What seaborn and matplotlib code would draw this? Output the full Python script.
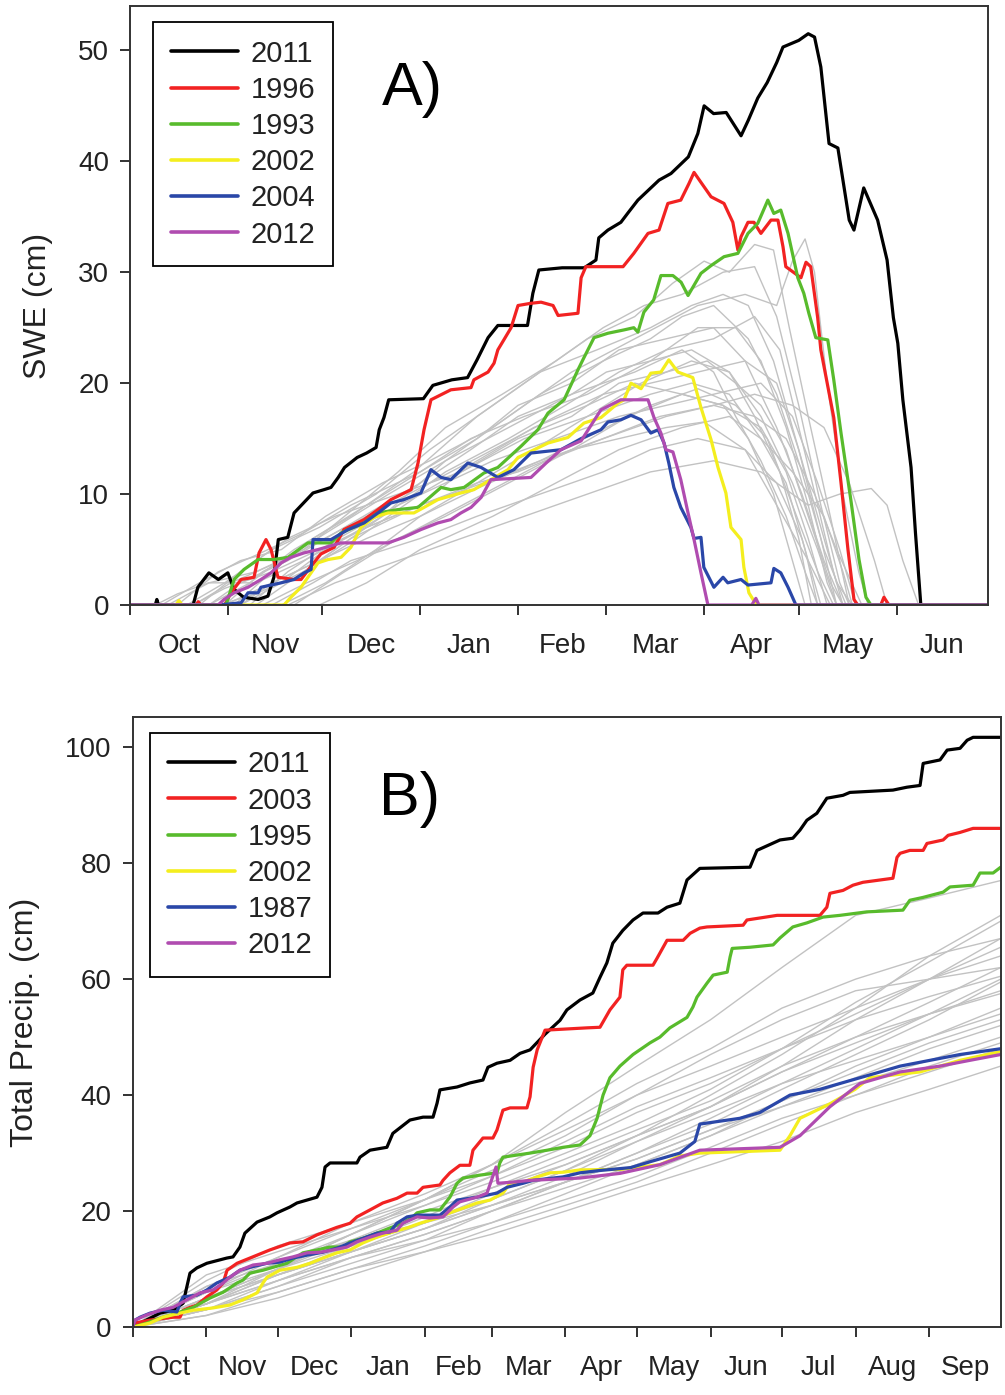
import seaborn as sns
import matplotlib.pyplot as plt
from matplotlib.lines import Line2D

# x values are days after 1 October, y values in cm

# ---- panel A: SWE ----
swe_2011 = [(0, 0), (8, 0), (8.5, 0.5), (9, 0), (20, 0), (21.5, 1.6), (25, 2.9), (28, 2.3), (31, 2.9),
            (33, 1.4), (36, 0.7), (40.6, 0.5), (43.7, 0.8), (45.6, 2.5), (47, 5.9), (50, 6.1), (52, 8.3),
            (55, 9.2), (58, 10.1), (61.5, 10.4), (63.7, 10.6), (66, 11.5), (68, 12.4), (72, 13.3),
            (75, 13.7), (78, 14.2), (79, 15.8), (80.5, 16.9), (82, 18.5), (93, 18.6), (96, 19.8),
            (102, 20.3), (107, 20.5), (110, 22.1), (113.5, 24.1), (116.6, 25.2), (126, 25.2),
            (127.7, 28.1), (129.6, 30.2), (137, 30.4), (144, 30.4), (147.7, 31.1), (148.6, 33.1),
            (151.5, 33.8), (155.6, 34.5), (158, 35.4), (161, 36.5), (167.7, 38.3), (171.5, 38.9),
            (177, 40.4), (180, 42.5), (182, 45.0), (185, 44.3), (189, 44.4), (193.7, 42.3), (196, 43.7),
            (199, 45.7), (202, 47.1), (205, 48.9), (207, 50.3), (212, 50.9), (215, 51.5), (217, 51.2),
            (219, 48.5), (221.6, 41.6), (224.4, 41.2), (228, 34.7), (229.5, 33.8), (232.6, 37.6),
            (237, 34.7), (240, 31.1), (242, 25.9), (243.4, 23.6), (245, 18.5), (247.6, 12.4),
            (249, 6.5), (250.7, 0), (272, 0)]
swe_1996 = [(0, 0), (21, 0), (21.6, 0.3), (22.5, 0), (30, 0), (32, 1.1), (35.2, 2.3), (39.3, 2.5),
            (40.9, 4.7), (43.1, 5.9), (44.7, 5.0), (46.9, 2.5), (52, 2.3), (54.2, 2.3), (57.4, 3.5),
            (60.5, 4.6), (64.7, 5.2), (67.8, 6.8), (74.2, 7.7), (78.6, 8.6), (82.7, 9.5), (89.1, 10.4),
            (91.3, 12.8), (93.2, 15.8), (95.4, 18.5), (101.7, 19.4), (108.1, 19.6), (109, 20.3),
            (113.5, 21.0), (115.4, 21.8), (116.6, 23.0), (118.5, 23.9), (120.8, 25.0), (123, 27.0),
            (127.1, 27.2), (130.3, 27.3), (134.1, 27.0), (135.7, 26.1), (142, 26.3), (143, 29.5),
            (144.5, 30.5), (156.3, 30.5), (159.7, 31.7), (164.2, 33.5), (167.7, 33.8), (170.5, 36.2),
            (174.6, 36.5), (177.2, 38.0), (178.8, 39.0), (181, 38.1), (184.2, 36.8), (188.3, 36.2),
            (191.1, 34.5), (192.7, 32.0), (193.7, 33.2), (195.9, 34.5), (197.8, 34.5), (200, 33.5),
            (203.2, 34.7), (205.4, 34.7), (207, 32.3), (207.9, 30.5), (212.7, 29.5), (214.3, 30.9),
            (215.8, 30.5), (218, 25.9), (219, 23.0), (223.1, 16.9), (225.4, 11.0), (227.6, 5.0),
            (229.5, 0.5), (230.7, 0), (238, 0), (239, 0.7), (240.6, 0), (272, 0)]
swe_1993 = [(0, 0), (30.4, 0), (33, 2.3), (36.1, 3.2), (40.6, 4.1), (45.6, 4.1), (50.1, 4.3),
            (56.4, 5.6), (63.7, 5.6), (66.9, 6.5), (74.2, 7.4), (78.6, 8.3), (84.9, 8.6), (91.3, 8.8),
            (98.6, 10.6), (101.7, 10.4), (105.9, 10.6), (112.2, 11.9), (116.6, 12.4), (123.9, 14.3),
            (129.3, 15.8), (132.5, 17.3), (137.6, 18.5), (142, 21.2), (143.9, 22.3), (147.1, 24.1),
            (151.5, 24.5), (156.6, 24.8), (159.7, 25.0), (161, 24.6), (162.9, 26.4), (166, 27.5),
            (168.3, 29.7), (172.1, 29.7), (174.7, 29.1), (176.9, 27.9), (181, 29.9), (184.2, 30.6),
            (188.3, 31.4), (192.7, 31.7), (195.9, 33.5), (199, 34.4), (202.2, 36.5), (204.1, 35.3),
            (206.3, 35.6), (208.6, 33.5), (211.7, 29.5), (213.6, 28.1), (215.2, 26.3), (217.4, 24.1),
            (221.2, 23.9), (223.1, 20.3), (225.4, 15.5), (228.5, 9.5), (231.1, 4.1), (233.3, 0.7),
            (234.9, 0), (272, 0)]
swe_2002 = [(0, 0), (14.5, 0), (15.5, 0.4), (16.5, 0), (48.8, 0), (51, 0.7), (54.2, 1.6), (56.4, 2.5),
            (59.6, 3.8), (62.8, 4.1), (66.9, 4.3), (70, 5.2), (73.2, 7.0), (77.3, 7.9), (81.8, 8.3),
            (90, 8.3), (93.2, 8.8), (97.6, 9.5), (104.9, 10.1), (109, 10.4), (114.4, 11.3),
            (119.8, 12.2), (123, 13.3), (132.5, 14.6), (138.8, 15.1), (143.9, 16.4), (149.3, 16.9),
            (154.7, 18.2), (156.6, 18.5), (158.8, 20.0), (162, 19.5), (165.1, 20.9), (168.3, 21.0),
            (170.8, 22.1), (173.7, 21.0), (178.4, 20.5), (181, 17.8), (184.2, 14.9), (186.4, 12.4),
            (188.9, 10.1), (190.5, 7.0), (193.7, 5.9), (194.6, 3.4), (196.2, 1.1), (197.5, 0.5),
            (199, 0), (272, 0)]
swe_2004 = [(0, 0), (27.9, 0), (35.2, 0.2), (37.4, 1.1), (40.6, 1.1), (41.5, 1.6), (44.7, 1.8),
            (47.9, 2.0), (52, 2.3), (55.2, 2.9), (57.4, 3.2), (58, 5.9), (63.7, 5.9), (69.1, 6.8),
            (74.2, 7.4), (78.6, 8.3), (82.7, 9.2), (86.8, 9.5), (92.2, 10.1), (95.4, 12.2),
            (98.6, 11.5), (101.7, 11.3), (107.1, 12.8), (111.3, 12.4), (116.6, 11.5), (121.7, 12.2),
            (127.1, 13.7), (136.6, 14.0), (143, 15.0), (149.3, 15.8), (151.5, 16.5), (155.6, 16.7),
            (158.8, 17.1), (162, 16.7), (165.1, 15.5), (167.4, 15.8), (169.3, 14.6), (170.8, 12.8),
            (172.4, 10.6), (174.6, 8.8), (177.8, 7.0), (178.8, 6.0), (181, 6.1), (181.9, 3.4),
            (185.1, 1.6), (188, 2.5), (189.5, 2.0), (193.7, 2.3), (195.9, 1.8), (203.2, 2.0),
            (204.1, 3.3), (206.3, 2.9), (208.6, 1.6), (211.1, 0), (272, 0)]
swe_2012 = [(0, 0), (27.9, 0), (29.8, 0.5), (33, 1.1), (37.4, 1.6), (41.5, 2.3), (44.7, 2.9),
            (47.9, 3.8), (51, 4.3), (55.2, 4.7), (59.6, 5.0), (66.9, 5.6), (81.8, 5.6), (86.8, 6.1),
            (92.2, 6.8), (97.6, 7.4), (101.7, 7.7), (104.9, 8.3), (108.1, 8.8), (111.3, 9.7),
            (114.4, 11.3), (127.1, 11.5), (131.9, 12.8), (136.6, 14.0), (143, 14.8), (149.3, 17.6),
            (155.6, 18.5), (164.2, 18.5), (166.1, 16.9), (168.3, 15.5), (169.9, 14.0), (172.1, 13.8),
            (174.6, 11.3), (176.9, 8.3), (178.8, 5.9), (181, 2.9), (183.2, 0), (197.1, 0),
            (198.4, 0.6), (199.4, 0), (272, 0)]

swe_gray = [
    [(0, 0), (20, 0), (30, 1.5), (45, 3), (60, 5), (75, 7), (92, 9), (110, 11), (123, 12), (140, 14),
     (155, 15), (170, 16), (182, 16.5), (195, 14), (205, 9), (215, 4), (222, 0), (272, 0)],
    [(0, 0), (25, 0), (35, 2), (50, 4), (62, 6), (80, 9), (92, 11), (108, 14), (123, 17), (140, 19),
     (151, 21), (165, 22), (178, 23), (190, 21), (200, 17), (210, 11), (218, 5), (224, 0), (272, 0)],
    [(0, 0), (15, 0), (28, 3), (40, 4.5), (55, 6.5), (70, 9), (92, 12), (110, 15), (123, 18), (140, 20),
     (155, 23), (170, 24), (185, 25), (195, 22), (205, 16), (213, 10), (220, 4), (226, 0), (272, 0)],
    [(0, 0), (35, 0), (45, 2), (60, 4), (75, 6), (92, 8), (110, 10.5), (130, 13), (151, 16), (165, 18),
     (180, 19.5), (192, 18), (202, 15), (210, 9), (218, 3), (223, 0), (272, 0)],
    [(0, 0), (10, 0), (22, 2), (35, 4), (48, 5), (62, 8), (80, 11), (95, 13), (115, 16), (130, 19),
     (150, 22), (165, 24), (175, 26), (185, 27), (196, 24), (205, 19), (213, 12), (220, 5), (227, 0),
     (272, 0)],
    [(0, 0), (40, 0), (55, 3), (70, 6), (92, 9), (105, 12), (123, 15), (140, 17), (155, 20), (170, 21),
     (183, 22), (192, 20), (200, 18), (208, 14), (215, 8), (222, 2), (226, 0), (272, 0)],
    [(0, 0), (30, 0), (42, 3), (55, 5), (68, 8), (85, 12), (100, 16), (118, 19), (135, 22), (150, 25),
     (163, 27), (175, 28), (188, 30), (198, 30.5), (205, 26), (212, 18), (219, 9), (225, 2), (228, 0),
     (272, 0)],
    [(0, 0), (45, 0), (58, 2), (70, 4), (92, 6), (110, 8), (130, 10), (150, 12), (165, 14), (180, 15),
     (195, 14), (205, 11), (213, 6), (219, 0), (272, 0)],
    [(0, 0), (20, 0), (32, 2), (48, 4), (65, 7), (82, 10), (100, 13), (120, 16), (140, 19), (160, 21),
     (175, 23), (185, 21), (192, 17), (200, 13), (208, 8), (214, 3), (218, 0), (272, 0)],
    [(0, 0), (38, 0), (50, 3), (66, 6), (85, 9), (100, 11), (115, 13), (135, 15), (155, 17), (170, 18),
     (185, 19), (200, 20), (210, 17), (218, 11), (225, 5), (230, 0), (272, 0)],
    [(0, 0), (25, 0), (38, 2), (52, 5), (70, 8), (90, 12), (110, 17), (125, 20), (145, 24), (160, 26),
     (172, 29), (182, 31), (190, 30), (198, 32.5), (204, 32), (209, 25), (215, 17), (222, 8), (228, 0),
     (272, 0)],
    [(0, 0), (48, 0), (62, 2), (78, 5), (92, 8), (110, 11), (128, 14), (145, 17), (162, 20), (178, 22),
     (190, 21), (198, 17), (206, 12), (212, 6), (216, 0), (272, 0)],
    [(0, 0), (12, 0), (25, 2), (40, 3), (55, 5), (75, 8), (95, 11), (115, 14), (135, 17), (150, 19),
     (165, 20), (180, 21), (195, 22), (205, 20), (212, 14), (218, 8), (224, 2), (229, 0), (272, 0)],
    [(0, 0), (50, 0), (65, 2), (85, 4), (105, 6), (125, 8), (145, 10), (165, 12), (185, 13), (200, 12),
     (215, 9), (225, 10), (235, 10.5), (240, 9), (245, 4), (250, 0), (272, 0)],
    [(0, 0), (35, 0), (48, 2), (62, 5), (80, 8), (100, 12), (120, 15), (138, 18), (155, 21), (170, 23),
     (185, 24), (198, 26), (206, 23), (212, 16), (218, 9), (223, 3), (226, 0), (272, 0)],
    [(0, 0), (28, 0), (40, 1), (55, 3), (72, 6), (92, 10), (110, 13), (128, 16), (145, 18), (160, 20),
     (175, 19), (188, 18), (200, 16), (208, 12), (215, 6), (221, 0), (272, 0)],
    [(0, 0), (42, 0), (56, 2), (72, 4), (92, 7), (112, 10), (132, 13), (150, 15), (168, 17), (185, 18),
     (198, 17), (208, 15), (217, 10), (224, 5), (232, 0), (272, 0)],
    [(0, 0), (18, 0), (30, 2), (45, 5), (60, 7), (78, 10), (95, 14), (115, 18), (130, 21), (148, 23),
     (165, 25), (178, 27), (188, 28), (196, 27), (204, 22), (212, 14), (219, 6), (224, 0), (272, 0)],
    [(0, 0), (52, 0), (68, 3), (85, 6), (100, 8), (120, 11), (140, 14), (158, 17), (175, 19), (188, 18),
     (196, 15), (204, 10), (210, 4), (214, 0), (272, 0)],
    [(0, 0), (8, 0), (15, 1), (25, 2), (40, 2), (55, 4), (75, 7), (92, 9), (112, 11), (130, 13),
     (150, 15), (170, 17), (185, 18), (198, 19), (210, 18), (220, 16), (228, 11), (236, 4), (240, 0),
     (272, 0)],
    [(0, 0), (33, 0), (45, 3), (58, 6), (75, 9), (92, 12), (108, 15), (125, 17), (145, 19), (165, 22),
     (180, 25), (192, 25), (200, 22), (208, 16), (215, 9), (221, 2), (224, 0), (272, 0)],
    [(0, 0), (60, 0), (75, 2), (92, 5), (115, 8), (135, 11), (155, 14), (175, 16), (190, 17), (200, 15),
     (208, 11), (214, 5), (218, 0), (272, 0)],
    [(0, 0), (30, 0), (45, 2), (60, 4), (80, 8), (100, 13), (120, 17), (140, 21), (160, 24), (180, 27),
     (195, 28), (205, 27), (210, 31), (214, 33), (217, 30), (221, 20), (226, 10), (231, 3), (234, 0),
     (272, 0)],
    [(0, 0), (22, 0), (35, 3), (50, 6), (65, 8), (85, 10), (105, 12), (125, 15), (145, 17), (165, 19),
     (178, 20), (190, 19), (200, 15), (210, 12), (220, 8), (226, 3), (229, 0), (272, 0)],
]

# ---- panel B: cumulative precipitation ----
pcp_2011 = [(0, 0), (4.3, 0.9), (11.5, 2.4), (17, 2.9), (21.2, 4.1), (24.1, 9.3), (27, 10.2),
            (31.2, 11.0), (39.6, 11.9), (42.2, 12.1), (45.1, 13.8), (47.2, 16.2), (52.3, 18.1),
            (57.7, 19.0), (60.7, 19.7), (66.1, 20.7), (69.1, 21.4), (77.5, 22.4), (79.6, 24.1),
            (80.9, 27.6), (83, 28.3), (94.3, 28.3), (95.6, 29.3), (99.8, 30.5), (106.9, 31.0),
            (109.4, 33.4), (116.6, 35.7), (122.1, 36.2), (126.3, 36.2), (128, 38.6), (129.2, 40.9),
            (136.4, 41.4), (141.8, 42.1), (147.3, 42.6), (149.4, 44.8), (153.2, 45.5), (158.7, 46.0),
            (162.9, 47.2), (167.1, 47.8), (173.4, 50.5), (179.7, 52.9), (182.6, 54.7), (188.1, 56.4),
            (193.5, 57.6), (196.5, 60.3), (199.4, 62.8), (201.9, 66.2), (206.1, 68.4), (210.4, 70.2),
            (214.6, 71.4), (220.9, 71.4), (224.7, 72.4), (230.1, 73.1), (233.1, 77.1), (238.5, 79.1),
            (259.6, 79.3), (262.5, 82.2), (272.2, 84.0), (277.6, 84.3), (280.6, 85.7), (283.5, 87.4),
            (287.7, 88.6), (291.9, 91.2), (298.7, 91.7), (301.6, 92.2), (319.7, 92.6), (325.6, 93.1),
            (331.1, 93.4), (332.4, 97.2), (339.5, 97.8), (342.5, 99.5), (347.9, 99.8), (350.9, 101.2),
            (353.4, 101.7), (365, 101.7)]
pcp_2003 = [(0, 0), (1, 0.7), (7.3, 1.2), (17, 1.7), (19.9, 1.7), (21.2, 2.9), (24.1, 3.4), (27, 3.8),
            (31.2, 5.2), (35.4, 6.4), (38, 7.6), (39.7, 9.8), (43.9, 11.0), (49.3, 11.9), (57.7, 13.3),
            (66.1, 14.5), (71.6, 14.7), (77.5, 15.9), (85.9, 17.2), (91.4, 17.9), (94.3, 19.0),
            (99.8, 20.2), (105.2, 21.4), (111.1, 22.2), (115.4, 23.1), (119.6, 23.1), (122.1, 24.1),
            (129.2, 24.5), (130.5, 25.3), (133.4, 26.6), (137.6, 27.9), (141.8, 27.9), (143.1, 30.5),
            (147.3, 32.6), (151.5, 32.6), (153.2, 34.0), (155.7, 37.4), (158.7, 37.8), (165.8, 37.8),
            (167.1, 39.7), (168.4, 44.8), (170.1, 47.8), (173.4, 51.2), (191.1, 51.6), (196.5, 51.7),
            (200.7, 54.7), (204.9, 56.9), (206.1, 61.6), (207.8, 62.4), (218.8, 62.4), (220.5, 63.6),
            (224.7, 66.7), (231.5, 66.7), (234.4, 67.9), (238.5, 68.8), (241.5, 69.0), (256.7, 69.3),
            (258.3, 70.2), (271, 71.0), (289, 71.0), (291.9, 72.4), (293.2, 74.8), (298.7, 75.3),
            (302.9, 76.2), (307.1, 76.7), (319.7, 77.4), (321.4, 81.0), (322.7, 81.7), (326.8, 82.2),
            (332.4, 82.2), (334, 83.4), (340.8, 84.0), (342.9, 84.8), (347.9, 85.3), (353.4, 86.0),
            (365, 86.0)]
pcp_1995 = [(0, 0), (6, 0.7), (12.7, 1.7), (18.6, 2.4), (25.4, 3.4), (32.5, 5.0), (38, 6.0),
            (43.9, 7.6), (46.4, 8.1), (49.3, 9.3), (54.8, 9.8), (59, 10.3), (64.9, 11.0), (71.6, 12.8),
            (77.5, 13.3), (83, 13.8), (88.5, 13.8), (91.4, 14.7), (96.8, 15.3), (102.7, 16.2),
            (108.2, 17.1), (113.6, 17.9), (117.8, 19.0), (119.6, 19.7), (125, 20.2), (129.2, 20.2),
            (133.4, 22.4), (136.4, 24.8), (138.9, 25.7), (146, 26.2), (153.2, 26.6), (154.4, 28.3),
            (155.7, 29.3), (167.1, 30.0), (174.3, 30.5), (181, 31.0), (188.1, 31.4), (192.3, 33),
            (195.3, 36), (197.8, 40), (200.7, 43), (204.9, 45), (210.4, 47), (217.5, 49), (221.7, 50),
            (225.9, 51.6), (233.1, 53.4), (235.6, 55.2), (237.3, 56.9), (241.5, 59.3), (244.1, 60.7),
            (250, 61.2), (251.2, 63.8), (252.1, 65.3), (259.6, 65.5), (269.3, 65.9), (272.2, 67.1),
            (277.6, 69.0), (283.5, 69.7), (290.3, 70.7), (297.4, 71.0), (308.7, 71.6), (323.9, 71.9),
            (326.8, 73.6), (332.4, 74.1), (340.8, 75.0), (343.7, 75.9), (353.4, 76.2), (356.3, 78.3),
            (361.8, 78.3), (365, 79.3)]
pcp_2002 = [(0, 0), (7.3, 0.7), (12.7, 1.7), (19.9, 2.4), (25.4, 2.9), (33.8, 3.3), (40.9, 3.8),
            (46.4, 4.7), (52.3, 5.9), (54.8, 7.6), (56.5, 8.6), (61.9, 9.8), (69.1, 10.3), (74.6, 11.0),
            (80, 11.9), (85.9, 12.8), (91.4, 13.3), (96.8, 14.5), (102.7, 15.5), (109.4, 16.4),
            (115.4, 17.1), (120.8, 17.9), (128, 18.8), (133.4, 19.7), (138.9, 20.5), (144.8, 21.4),
            (150.3, 21.9), (155.7, 23.1), (158.7, 24.8), (164.2, 25.0), (170.1, 25.9), (175.6, 26.6),
            (181, 26.7), (188.1, 27.1), (204.9, 27.2), (221.7, 28), (230.1, 29.5), (238.5, 30),
            (272.2, 30.5), (276.4, 33), (280.6, 36), (293.2, 38.5), (303.8, 41), (310, 43),
            (331.1, 44), (347.9, 46), (365, 47.5)]
pcp_1987 = [(0, 0), (1, 1.2), (3.1, 1.7), (7.3, 2.4), (12.7, 2.9), (18.6, 2.6), (19.9, 4.1), (21.2, 5.2),
            (27, 5.5), (31.2, 6.4), (35.4, 7.6), (40.9, 8.6), (45.1, 9.8), (49.3, 10.3), (56.5, 11.0),
            (61.9, 11.2), (67.4, 11.9), (73.3, 12.4), (80, 12.9), (85.9, 13.6), (91.4, 14.5),
            (96.8, 15.3), (102.7, 16.2), (108.2, 16.4), (111.1, 17.9), (115.4, 19.0), (119.6, 19.3),
            (129.2, 19.3), (133.4, 20.7), (136.4, 21.9), (144.8, 22.4), (153.2, 23.1), (157.4, 24.1),
            (164.2, 24.8), (168.4, 25.3), (181, 25.9), (188.1, 26.6), (196.5, 27), (209.4, 27.5),
            (217.5, 28.5), (230.1, 30), (236.4, 32), (238.5, 35), (255.3, 36), (263.7, 37),
            (276.4, 40), (289, 41), (297.4, 42), (314.3, 44), (322.7, 45), (335.3, 46), (347.9, 47),
            (365, 48)]
pcp_2012 = [(0, 0), (1, 1.2), (6, 2.1), (11.5, 2.9), (17, 3.4), (22.8, 4.7), (28.3, 5.9), (33.8, 6.4),
            (38, 7.6), (40.9, 8.6), (45.1, 9.8), (50.6, 10.7), (56.5, 11.0), (61.9, 11.6), (67.4, 12.1),
            (73.3, 12.8), (78.8, 12.9), (84.3, 13.3), (90.1, 13.8), (94.3, 14.7), (99.8, 15.5),
            (105.2, 16.2), (111.1, 16.7), (113.6, 17.9), (119.6, 19.0), (125, 18.8), (130.5, 19.0),
            (134.7, 20.7), (137.6, 21.6), (144.8, 22.4), (149, 23.1), (152.8, 27.6), (153.6, 24.8),
            (160, 25.0), (167.1, 25.3), (188.1, 25.7), (204.9, 26.5), (221.7, 28), (238.5, 30.5),
            (272.2, 31), (280.6, 33), (293.2, 38), (305.8, 42), (322.7, 44), (339.5, 45), (352.1, 46),
            (365, 47)]

# grey years, values at the start of each month Oct..Sep and at 30 Sep
pcp_gray_days = [0, 31, 61, 92, 123, 151, 182, 212, 243, 273, 304, 335, 365]
pcp_gray = [
    [0, 5, 10, 16, 22, 28, 37, 45, 53, 62, 71, 74, 77],
    [0, 4, 9, 14, 18, 22, 27, 33, 40, 47, 55, 64, 71],
    [0, 7, 12, 17, 21, 25, 30, 35, 41, 48, 56, 63, 70],
    [0, 3, 8, 13, 17, 21, 26, 32, 38, 45, 53, 60, 67],
    [0, 6, 11, 16, 21, 26, 31, 37, 42, 48, 54, 60, 65.5],
    [0, 5, 9, 13, 18, 23, 28, 33, 38, 44, 50, 56, 62],
    [0, 8, 14, 18, 22, 26, 32, 38, 43, 48, 53, 57, 60.5],
    [0, 4, 8, 12, 16, 20, 25, 30, 36, 42, 48, 54, 60],
    [0, 3, 7, 11, 15, 20, 25, 30, 35, 41, 47, 53, 59.5],
    [0, 6, 10, 14, 19, 24, 29, 34, 39, 45, 50, 54, 58],
    [0, 5, 10, 15, 20, 24, 28, 33, 38, 44, 49, 54, 57.5],
    [0, 2, 6, 10, 14, 18, 23, 28, 33, 39, 45, 50, 55],
    [0, 4, 9, 13, 17, 22, 27, 32, 37, 42, 46, 50, 54],
    [0, 7, 11, 15, 18, 21, 25, 29, 34, 39, 44, 49, 53],
    [0, 3, 7, 12, 16, 20, 24, 28, 33, 38, 43, 48, 52],
    [0, 5, 9, 13, 17, 21, 25, 29, 34, 38, 42, 46, 50],
    [0, 2, 5, 9, 13, 17, 21, 25, 30, 35, 40, 45, 49],
    [0, 4, 8, 12, 15, 18, 22, 26, 31, 36, 40, 44, 48],
    [0, 3, 6, 10, 13, 16, 20, 24, 28, 32, 37, 41, 45],
    [0, 9, 13, 17, 22, 27, 33, 40, 47, 53, 58, 60, 62],
    [0, 6, 12, 18, 23, 28, 34, 40, 45, 50, 55, 60, 64],
    [0, 4, 10, 16, 22, 28, 35, 42, 48, 55, 60, 64, 67],
]

months_a = ["Oct", "Nov", "Dec", "Jan", "Feb", "Mar", "Apr", "May", "Jun"]
month_start_a = [0, 31, 61, 92, 123, 151, 182, 212, 243, 272]
months_b = ["Oct", "Nov", "Dec", "Jan", "Feb", "Mar", "Apr", "May", "Jun", "Jul", "Aug", "Sep"]
month_start_b = [0, 31, 61, 92, 123, 151, 182, 212, 243, 273, 304, 335, 365]

labels_a = ["2011", "1996", "1993", "2002", "2004", "2012"]
labels_b = ["2011", "2003", "1995", "2002", "1987", "2012"]
colors = ["black", "#f22222", "#58bb2c", "#f4ee1e", "#2a47a8", "#b04cb0"]
gray = "#c2c2c2"

sns.set_style("ticks")
plt.rcParams["font.family"] = ["Liberation Sans", "DejaVu Sans"]
text_col = "#222222"


def draw_line(ax, pts, color, lw):
    x = [p[0] for p in pts]
    y = [p[1] for p in pts]
    sns.lineplot(x=x, y=y, ax=ax, color=color, lw=lw, estimator=None, sort=False, legend=False)


def style_axis(ax, starts, names, xmax, ymax, ystep, ylabel, label_x):
    ax.set_xlim(0, xmax)
    ax.set_ylim(0, ymax)
    ax.set_xticks(starts[:-1] if starts[-1] >= xmax else starts)
    ax.set_xticklabels([])
    mids = [(starts[i] + starts[i + 1]) / 2 for i in range(len(names))]
    ax.set_xticks(mids, minor=True)
    ax.set_xticklabels(names, minor=True)
    ax.set_yticks(range(0, int(ymax) + 1, ystep))
    ax.tick_params(axis="x", which="major", direction="out", length=7, width=1.3, color="#222")
    ax.tick_params(axis="x", which="minor", length=0, pad=20, labelsize=20, labelcolor=text_col)
    ax.tick_params(axis="y", direction="out", length=7, width=1.3, color="#222", pad=8,
                   labelsize=20, labelcolor=text_col)
    ax.set_ylabel(ylabel, fontsize=23, color=text_col)
    ax.yaxis.label.set_va("center")
    ax.yaxis.set_label_coords(label_x, 0.5)
    ax.set_xlabel("")
    for sp in ax.spines.values():
        sp.set_visible(True)
        sp.set_color("#333333")
        sp.set_linewidth(1.4)


def add_legend(ax, labels, anchor):
    handles = [Line2D([0], [0], color=c, lw=2.6) for c in colors]
    leg = ax.legend(handles, labels, loc="upper left", bbox_to_anchor=anchor, fontsize=21,
                    frameon=True, fancybox=False, edgecolor="black", framealpha=1,
                    handlelength=2.3, handletextpad=0.45, labelspacing=0.28, borderpad=0.6,
                    borderaxespad=0)
    leg.get_frame().set_linewidth(1.3)
    for t in leg.get_texts():
        t.set_color(text_col)


fig = plt.figure(figsize=(10.05, 13.95), dpi=100)
ax_a = fig.add_axes([0.1294, 0.5663, 0.8537, 0.4294])
ax_b = fig.add_axes([0.1320, 0.0487, 0.8637, 0.4373])

for line in swe_gray:
    draw_line(ax_a, line, gray, 1.0)
for pts, c in zip([swe_2011, swe_1996, swe_1993, swe_2002, swe_2004, swe_2012], colors):
    draw_line(ax_a, pts, c, 2.3)

for vals in pcp_gray:
    draw_line(ax_b, list(zip(pcp_gray_days, vals)), gray, 1.0)
for pts, c in zip([pcp_2011, pcp_2003, pcp_1995, pcp_2002, pcp_1987, pcp_2012], colors):
    draw_line(ax_b, pts, c, 2.3)

style_axis(ax_a, month_start_a, months_a, 272, 54.0, 10, "SWE (cm)", -0.107)
style_axis(ax_b, month_start_b, months_b, 365, 105.2, 20, "Total Precip. (cm)", -0.124)

add_legend(ax_a, labels_a, (0.027, 0.973))
add_legend(ax_b, labels_b, (0.02, 0.974))

ax_a.text(0.329, 0.86, "A)", transform=ax_a.transAxes, fontsize=44, ha="center", va="center",
          color="black")
ax_b.text(0.319, 0.864, "B)", transform=ax_b.transAxes, fontsize=44, ha="center", va="center",
          color="black")

fig.savefig("out.png", dpi=100)
